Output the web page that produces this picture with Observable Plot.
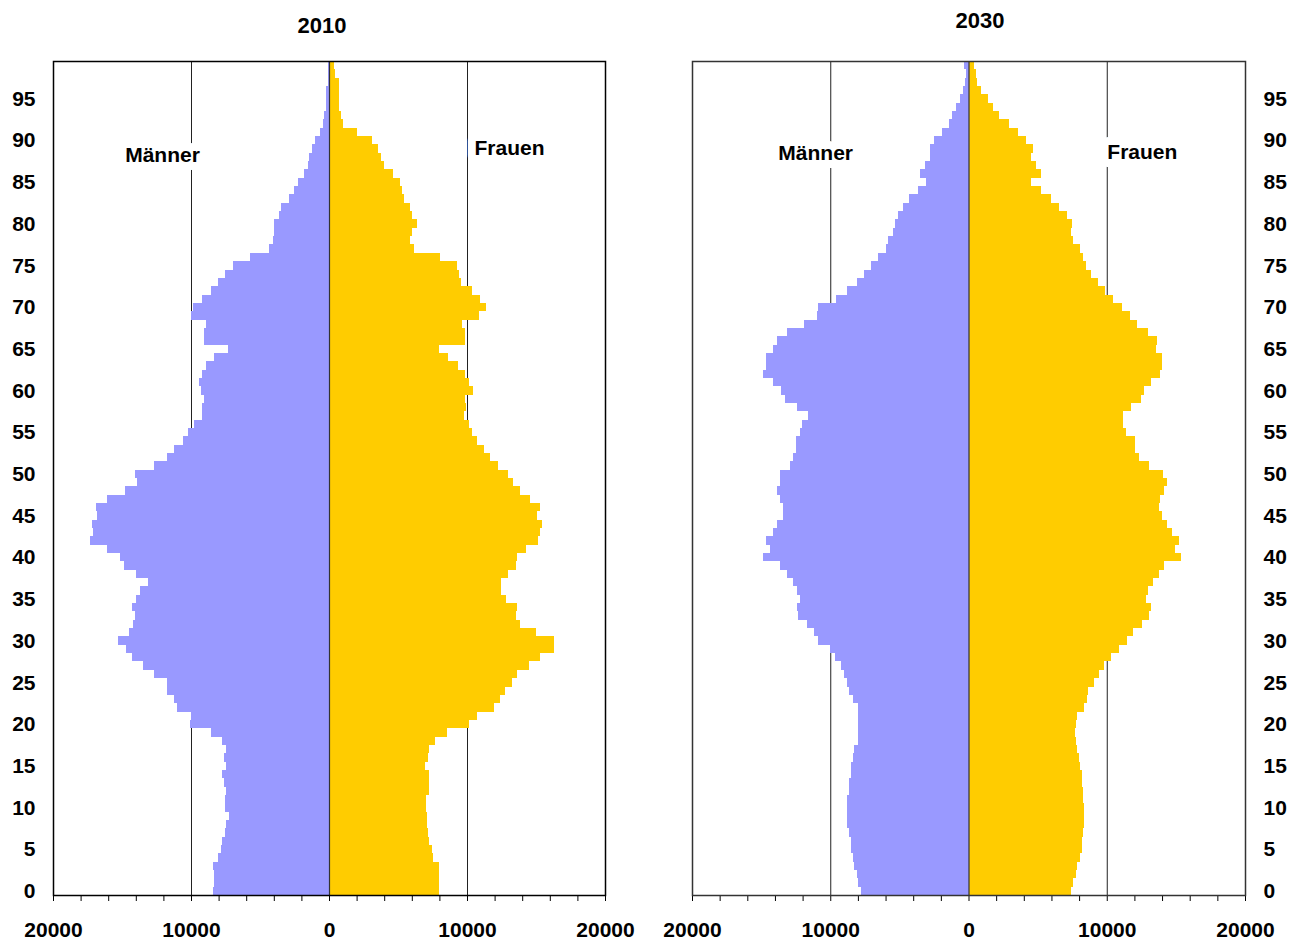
<!DOCTYPE html>
<html><head><meta charset="utf-8">
<script src="https://cdn.jsdelivr.net/npm/d3@7"></script>
<script src="https://cdn.jsdelivr.net/npm/@observablehq/plot@0.6"></script>
<style>
body{margin:0;background:#fff;}
#wrap{position:relative;width:1291px;height:940px;overflow:hidden;font-family:"Liberation Sans",Arial,sans-serif;}
.title{position:absolute;z-index:5;width:120px;text-align:center;font-weight:bold;font-size:22px;line-height:22px;color:#000;}
.panel{position:absolute;top:0;z-index:1;}
</style></head><body>
<div id="wrap">
<div class="panel" id="p1" style="left:0px"></div>
<div class="panel" id="p2" style="left:646px"></div>
<div class="title" style="left:262px;top:15px">2010</div>
<div class="title" style="left:920px;top:10px">2030</div>
</div>
<script>
const ages = d3.range(0, 100);
const ageTicks = d3.range(0, 100, 5);
const xMinorTicks = d3.range(-20000, 20001, 2000);
const xMajorTicks = [-20000, -10000, 0, 10000, 20000];

const men2010 = [8370,8320,8320,8370,8020,7810,7730,7510,7430,7220,
7510,7510,7430,7590,7730,7430,7590,7430,7730,8580,
10100,10000,10990,11200,11740,11760,12650,13500,14300,14730,
15320,14520,14220,14090,14300,14010,13720,13150,14010,14890,
15160,16120,17350,17110,17190,16840,16900,16120,14810,13930,
14090,12650,11760,11200,10610,10190,9760,9220,9220,9040,
9300,9390,9220,8880,8320,7300,9040,9090,8880,9970,
9890,9220,8580,8070,7510,6930,5700,4330,4040,3960,
3960,3610,3450,2890,2510,2250,1790,1500,1440,1230,
1020,640,430,350,210,210,210,100,100,100];

const women2010 = [7990,7990,7990,7940,7510,7460,7250,7140,7090,7090,
7030,7030,7270,7270,7270,6930,7140,7250,7670,8580,
10160,10700,11930,12400,12780,13240,13610,14470,15320,16280,
16280,14970,13820,13530,13610,12810,12430,12430,12940,13530,
13610,14250,15110,15320,15400,15050,15320,14600,13820,13320,
12940,12220,11660,11200,10700,10350,10130,9760,9920,9840,
10430,10130,9840,9330,8610,7990,9840,9840,9630,10860,
11360,10940,10350,9550,9410,9250,8020,6150,5880,6040,
6360,6040,5880,5450,5270,5110,4630,3980,3740,3530,
3130,2030,1020,880,700,700,700,700,430,370];

const men2030 = [7750,7970,8100,8260,8320,8480,8530,8610,8770,8820,
8770,8770,8610,8610,8530,8480,8320,8260,8020,7970,
7970,7970,8020,8320,8610,8770,9040,9250,9630,10050,
10860,11200,11660,12300,12430,12170,12430,12730,13160,13610,
14840,14390,14680,14170,13880,13450,13450,13610,13820,13610,
13610,12940,12670,12510,12510,12170,12010,11580,12430,13240,
13530,14170,14890,14680,14630,14120,13880,13160,11930,10990,
10860,9550,8770,8100,7540,7030,6520,5940,5800,5430,
5350,5130,4710,4280,3640,3050,3480,3180,2750,2750,
2460,1900,1440,1180,880,590,370,240,160,290];

const women2030 = [7430,7570,7810,7860,8070,8240,8240,8290,8370,8370,
8370,8290,8290,8240,8240,8070,7990,7860,7810,7730,
7810,7860,8370,8580,8660,9090,9470,9810,10320,10910,
11470,11930,12570,13070,13210,12860,12990,13370,13800,14140,
15370,14950,15240,14730,14390,14010,13800,13880,14140,14390,
14090,13070,12350,12060,12060,11420,11200,11200,11760,12490,
12700,13210,13880,14010,14010,13580,13660,12990,12190,11710,
11120,10480,9890,9390,8880,8530,8300,8070,7570,7430,
7510,7090,6580,5990,5270,4550,5270,4890,4550,4630,
4170,3610,2940,2220,1790,1420,940,640,550,400];

const seriesLabels = ["Männer", "Frauen"];
const labels2010 = [{x: -12100, age: 88, dy: -2, text: seriesLabels[0]}, {x: 13040, age: 89, dy: -1, text: seriesLabels[1]}];
const labels2030 = [{x: -11090, age: 88, dy: -4, text: seriesLabels[0]}, {x: 12540, age: 89, dy: 3, text: seriesLabels[1]}];

function pyramid(men, women, labels, o) {
  const rows = ages.map((a, i) => ({age: a, men: men[i], women: women[i]}));
  return Plot.plot({
    width: o.width, height: 940,
    marginTop: 61, marginBottom: 45, marginLeft: o.ml, marginRight: o.mr,
    style: {fontFamily: '"Liberation Sans", Arial, sans-serif', fontSize: "21px", fontWeight: "bold", color: "#000", background: "transparent", overflow: "visible"},
    x: {domain: [-20000, 20000], axis: null, label: null},
    y: {type: "band", domain: ages.slice().reverse(), padding: 0, axis: null, label: null},
    marks: [
      Plot.ruleX([-10000, 10000], {stroke: "#222", strokeWidth: 1}),
      Plot.barX(rows, {y: "age", x1: 0, x2: d => -d.men, fill: "#9999ff", shapeRendering: "crispEdges"}),
      Plot.barX(rows, {y: "age", x1: 0, x2: "women", fill: "#ffcc00", shapeRendering: "crispEdges"}),
      Plot.ruleX([0], {stroke: "#333", strokeWidth: 1.2}),
      Plot.axisY({ticks: ageTicks, anchor: o.yAnchor, tickSize: 0, tickPadding: 18, label: null}),
      Plot.axisX({ticks: xMinorTicks, anchor: "bottom", tickSize: 6, tickFormat: () => "", label: null}),
      Plot.axisX({ticks: xMajorTicks, anchor: "bottom", tickSize: 0, tickPadding: 27, tickFormat: d => String(Math.abs(d)), label: null}),
      ...labels.map(l => Plot.text([l], {x: "x", y: "age", dy: l.dy, text: "text", fill: "#000", stroke: "#fff", strokeWidth: 16})),
      Plot.frame({stroke: o.frame, strokeWidth: 1.5})
    ]
  });
}

document.getElementById("p1").append(pyramid(men2010, women2010, labels2010, {width: 640, ml: 53, mr: 35, yAnchor: "left", frame: "#000"}));
document.getElementById("p2").append(pyramid(men2030, women2030, labels2030, {width: 645, ml: 46, mr: 46, yAnchor: "right", frame: "#333"}));
</script>
</body></html>
